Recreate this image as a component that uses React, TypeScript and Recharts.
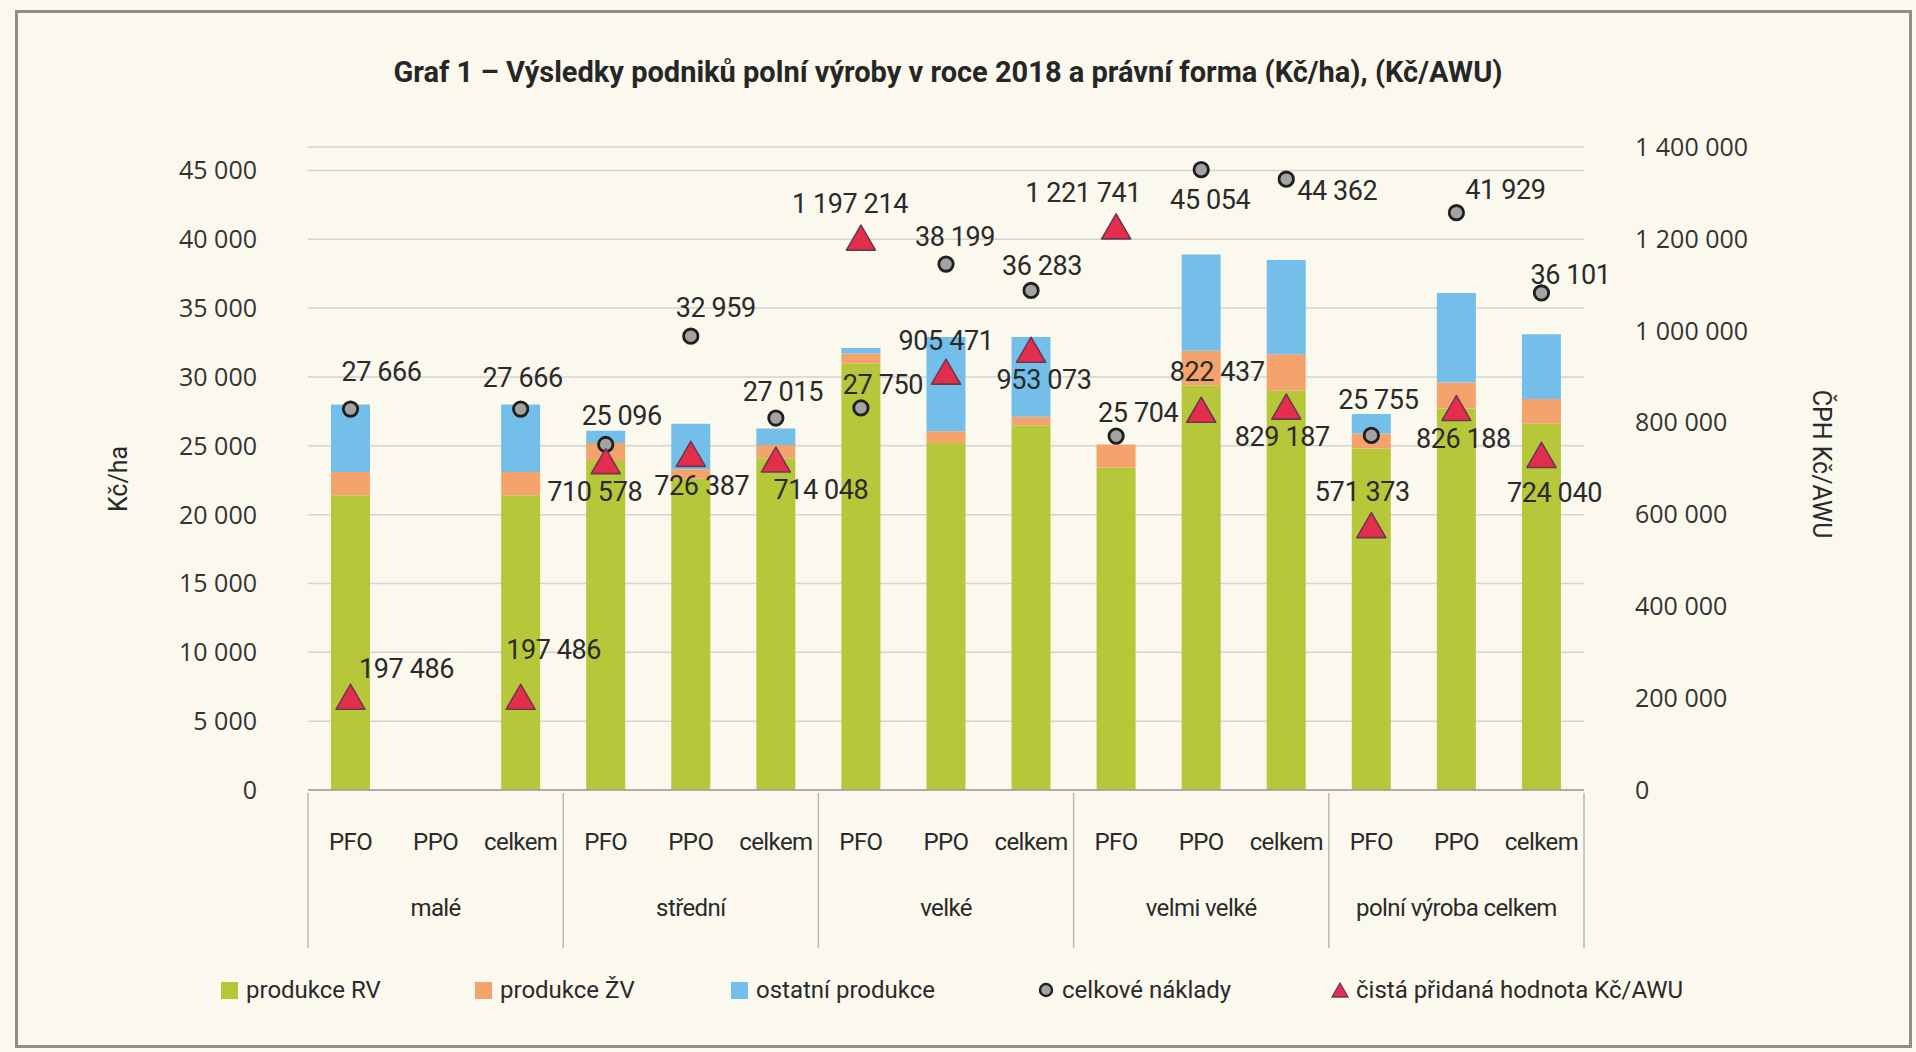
import { ComposedChart, Bar, Line, XAxis, YAxis, CartesianGrid, Legend, LabelList } from "recharts";

const categories = [
  "PFO", "PPO", "celkem",
  "PFO", "PPO", "celkem",
  "PFO", "PPO", "celkem",
  "PFO", "PPO", "celkem",
  "PFO", "PPO", "celkem",
];
const groups = ["malé", "střední", "velké", "velmi velké", "polní výroba celkem"];

// Kč/ha
const produkceRV = [21400, null, 21400, 23900, 22600, 24100, 31000, 25200, 26500, 23400, 29400, 29000, 24800, 27700, 26600];
const produkceZV = [1700, null, 1700, 1300, 700, 950, 700, 850, 600, 1700, 2500, 2650, 1100, 1900, 1800];
const ostatniProdukce = [4900, null, 4900, 900, 3300, 1200, 400, 6850, 5800, 0, 7000, 6850, 1400, 6500, 4700];
const celkoveNaklady = [27666, null, 27666, 25096, 32959, 27015, 27750, 38199, 36283, 25704, 45054, 44362, 25755, 41929, 36101];
// Kč/AWU
const cistaPridanaHodnota = [197486, null, 197486, 710578, 726387, 714048, 1197214, 905471, 953073, 1221741, 822437, 829187, 571373, 826188, 724040];

const leftTicks = [0, 5000, 10000, 15000, 20000, 25000, 30000, 35000, 40000, 45000];
const rightTicks = [0, 200000, 400000, 600000, 800000, 1000000, 1200000, 1400000];

const data = categories.map((cat, i) => ({
  id: i,
  cat,
  rv: produkceRV[i],
  zv: produkceZV[i],
  ost: ostatniProdukce[i],
  naklady: celkoveNaklady[i],
  cph: cistaPridanaHodnota[i],
}));

// label offsets relative to the marker (manual placement like in the original)
const nakladyLabelOffset: [number, number][] = [
  [31, -37], [0, 0], [2, -31], [16, -28], [25, -28], [7, -26], [22, -23], [9, -27],
  [11, -24], [22, -23], [9, 30], [51, 12], [7, -35], [49, -23], [29, -18],
];
const cphLabelOffset: [number, number][] = [
  [56, -30], [0, 0], [33, -49], [-11, 28], [11, 30], [45, 28], [-11, -36], [0, -33],
  [13, 28], [-33, -36], [16, -40], [-4, 28], [-9, -36], [7, 28], [13, 36],
];

const GREEN = "#b7c73a";
const ORANGE = "#f5a36c";
const BLUE = "#74bfe9";
const TRI_FILL = "#e32f4b";
const TRI_STROKE = "#6e3656";
const DOT_FILL = "#a3a3a3";
const DOT_STROKE = "#1f1f1f";

const TICK_FONT = "'Open Sans', 'Noto Sans', sans-serif";
const NARROW = "Roboto, 'Noto Sans', sans-serif";
const LABEL_FONT = "Roboto, 'Noto Sans', sans-serif";

const W = 1916;
const H = 1052;
const PLOT_LEFT = 308;
const PLOT_RIGHT = 1584;
const BAND = (PLOT_RIGHT - PLOT_LEFT) / categories.length;

const fmt = (v: number) => String(Math.round(v)).replace(/\B(?=(\d{3})+(?!\d))/g, " ");

function Circle(props: any) {
  const { cx, cy, value } = props;
  if (value == null || cx == null || cy == null) return <g />;
  return <circle cx={cx} cy={cy} r={7.2} fill={DOT_FILL} stroke={DOT_STROKE} strokeWidth={2.8} />;
}

function Triangle(props: any) {
  const { cx, cy, value } = props;
  if (value == null || cx == null || cy == null) return <g />;
  const w = 29;
  const h = 25;
  return (
    <polygon
      points={`${cx},${cy - h * 0.6} ${cx + w / 2},${cy + h * 0.4} ${cx - w / 2},${cy + h * 0.4}`}
      fill={TRI_FILL}
      stroke={TRI_STROKE}
      strokeWidth={1.6}
      strokeLinejoin="round"
    />
  );
}

function makeLabel(offsets: [number, number][]) {
  return (props: any) => {
    const { x, y, value, index } = props;
    if (value == null || x == null || y == null) return null;
    const [dx, dy] = offsets[index] || [0, -28];
    return (
      <text
        x={x + dx}
        y={y + dy}
        textAnchor="middle"
        dominantBaseline="central"
        fontFamily={LABEL_FONT}
        fontSize={27}
        letterSpacing={-0.4}
        fill="#2a2a2a"
      >
        {fmt(value)}
      </text>
    );
  };
}

function CategoryTick(props: any) {
  const { x, y, payload, index } = props;
  const i = index ?? payload.index;
  const left = x - BAND / 2;
  const right = x + BAND / 2;
  return (
    <g>
      <text x={x} y={y + 52} textAnchor="middle" dominantBaseline="central" fontFamily={NARROW} fontSize={24} letterSpacing={-0.6} fill="#2a2a2a">
        {payload.value}
      </text>
      {i % 3 === 0 && <line x1={left} x2={left} y1={y + 3} y2={y + 158} stroke="#b8b8b8" strokeWidth={1.5} />}
      {i === categories.length - 1 && <line x1={right} x2={right} y1={y + 3} y2={y + 158} stroke="#b8b8b8" strokeWidth={1.5} />}
      {i % 3 === 1 && (
        <text x={x} y={y + 118} textAnchor="middle" dominantBaseline="central" fontFamily={NARROW} fontSize={24} letterSpacing={-0.6} fill="#2a2a2a">
          {groups[Math.floor(i / 3)]}
        </text>
      )}
    </g>
  );
}

const legendItems = [
  { label: "produkce RV", kind: "square", color: GREEN, left: 220 },
  { label: "produkce ŽV", kind: "square", color: ORANGE, left: 474 },
  { label: "ostatní produkce", kind: "square", color: BLUE, left: 730 },
  { label: "celkové náklady", kind: "circle", color: DOT_FILL, left: 1036 },
  { label: "čistá přidaná hodnota Kč/AWU", kind: "triangle", color: TRI_FILL, left: 1330 },
];

function LegendContent() {
  return (
    <div style={{ position: "relative", width: W, height: 30 }}>
      {legendItems.map((it) => (
        <div
          key={it.label}
          style={{ position: "absolute", left: it.left, top: 0, height: 30, display: "flex", alignItems: "center" }}
        >
          <svg width={20} height={20} style={{ marginRight: 6 }}>
            {it.kind === "square" && <rect x={1} y={2} width={17} height={17} fill={it.color} />}
            {it.kind === "circle" && <circle cx={10} cy={10} r={6} fill={DOT_FILL} stroke={DOT_STROKE} strokeWidth={2.4} />}
            {it.kind === "triangle" && (
              <polygon points="10,3 18,17 2,17" fill={TRI_FILL} stroke={TRI_STROKE} strokeWidth={1.3} />
            )}
          </svg>
          <span style={{ fontFamily: LABEL_FONT, fontSize: 24, color: "#2a2a2a", whiteSpace: "nowrap" }}>{it.label}</span>
        </div>
      ))}
    </div>
  );
}

export default function App() {
  return (
    <div style={{ position: "absolute", left: 0, top: 0, width: W, height: H, background: "#fbf8ee", overflow: "hidden" }}>
      <div
        style={{
          position: "absolute",
          left: 15,
          top: 10,
          width: 1897,
          height: 1038,
          border: "3px solid #8e8e8e",
          boxSizing: "border-box",
        }}
      />
      <div
        style={{
          position: "absolute",
          left: 0,
          width: W,
          top: 55,
          textAlign: "center",
          paddingRight: 20,
          boxSizing: "border-box",
          fontFamily: NARROW,
          fontWeight: 700,
          fontSize: 29,
          color: "#262626",
        }}
      >
        Graf 1 – Výsledky podniků polní výroby v roce 2018 a právní forma (Kč/ha), (Kč/AWU)
      </div>
      <div
        style={{
          position: "absolute",
          left: 118,
          top: 479,
          transform: "translate(-50%, -50%) rotate(-90deg)",
          fontFamily: NARROW,
          fontSize: 25,
          color: "#2a2a2a",
          whiteSpace: "nowrap",
        }}
      >
        Kč/ha
      </div>
      <div
        style={{
          position: "absolute",
          left: 1821,
          top: 464,
          transform: "translate(-50%, -50%) rotate(90deg)",
          fontFamily: NARROW,
          fontSize: 25,
          color: "#2a2a2a",
          whiteSpace: "nowrap",
        }}
      >
        ČPH Kč/AWU
      </div>
      <div style={{ position: "absolute", left: 0, top: 0 }}>
        <ComposedChart width={W} height={H} data={data} margin={{ top: 147, right: 100, bottom: 47, left: 100 }}>
          <CartesianGrid yAxisId="left" vertical={false} stroke="#d3d3d3" strokeWidth={1.5} />
          <XAxis
            dataKey="cat"
            xAxisId={0}
            interval={0}
            height={185}
            tickLine={false}
            tickSize={0}
            tickMargin={0}
            axisLine={{ stroke: "#9d9d9d", strokeWidth: 1.5 }}
            tick={<CategoryTick />}
          />
          <YAxis
            yAxisId="left"
            orientation="left"
            width={208}
            domain={[0, 46700]}
            ticks={leftTicks}
            interval={0}
            axisLine={false}
            tickLine={false}
            tickSize={0}
            tickMargin={51}
            tickFormatter={fmt}
            tick={{ fontFamily: TICK_FONT, fontSize: 25, fill: "#333" }}
          />
          <YAxis
            yAxisId="right"
            orientation="right"
            width={232}
            domain={[0, 1400000]}
            ticks={rightTicks}
            interval={0}
            axisLine={false}
            tickLine={false}
            tickSize={0}
            tickMargin={51}
            tickFormatter={fmt}
            tick={{ fontFamily: TICK_FONT, fontSize: 25, fill: "#333" }}
          />
          <Legend verticalAlign="bottom" content={<LegendContent />} wrapperStyle={{ left: 0, width: W }} />
          <Bar yAxisId="left" dataKey="rv" stackId="p" fill={GREEN} barSize={39} isAnimationActive={false} />
          <Bar yAxisId="left" dataKey="zv" stackId="p" fill={ORANGE} barSize={39} isAnimationActive={false} />
          <Bar yAxisId="left" dataKey="ost" stackId="p" fill={BLUE} barSize={39} isAnimationActive={false} />
          <Line
            yAxisId="left"
            dataKey="naklady"
            stroke="none"
            dot={<Circle />}
            activeDot={false}
            isAnimationActive={false}
          >
            <LabelList dataKey="naklady" content={makeLabel(nakladyLabelOffset)} />
          </Line>
          <Line
            yAxisId="right"
            dataKey="cph"
            stroke="none"
            dot={<Triangle />}
            activeDot={false}
            isAnimationActive={false}
          >
            <LabelList dataKey="cph" content={makeLabel(cphLabelOffset)} />
          </Line>
        </ComposedChart>
      </div>
    </div>
  );
}
